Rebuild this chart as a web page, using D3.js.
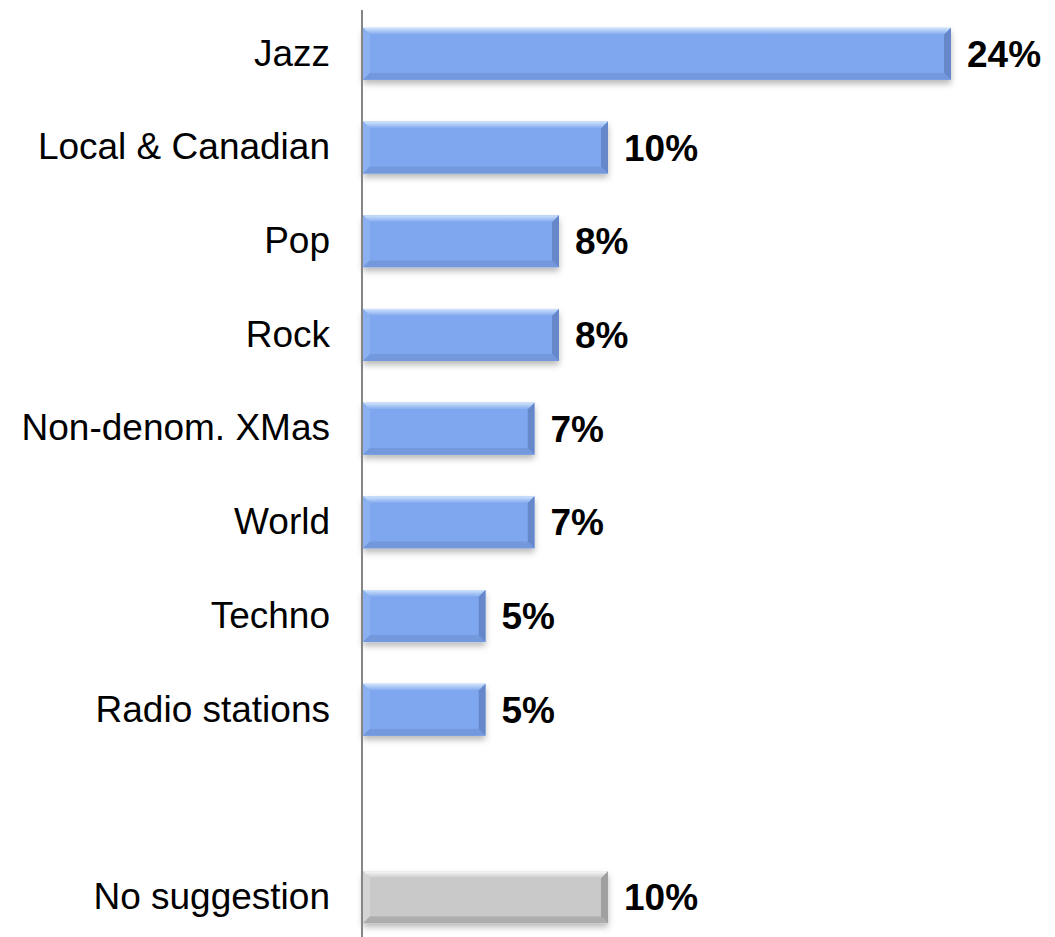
<!DOCTYPE html>
<html><head><meta charset="utf-8">
<script src="https://cdn.jsdelivr.net/npm/d3@7"></script>
<style>body{margin:0;background:#fff}svg{display:block}</style>
</head><body>
<svg id="c" width="1055" height="937"></svg>
<script>
const categories = ["Jazz","Local & Canadian","Pop","Rock","Non-denom. XMas","World","Techno","Radio stations","","No suggestion"];
const values = [24,10,8,8,7,7,5,5,null,10];
const labels = ["24%","10%","8%","8%","7%","7%","5%","5%","","10%"];
const isGray = [false,false,false,false,false,false,false,false,false,true];

const svg = d3.select("#c");
const defs = svg.append("defs");
const f = defs.append("filter").attr("id","sh").attr("x","-5%").attr("y","-20%").attr("width","110%").attr("height","160%");
f.append("feDropShadow").attr("dx",0).attr("dy",4).attr("stdDeviation",3).attr("flood-color","#000").attr("flood-opacity",0.28);

const y = d3.scaleBand().domain(d3.range(categories.length)).range([7,944]).paddingInner(0.445).paddingOuter(0.2225);
const x = d3.scaleLinear().domain([0,10]).range([363,608]);

const pal = {
  blue:{main:"#7fa7ef", top:"#cfe3fb", left:"#8cb1f1", bottom:"#7398dc", right:"#6688cb"},
  gray:{main:"#c9c9c9", top:"#fafafa", left:"#d4d4d4", bottom:"#adadad", right:"#a0a0a0"}
};
["blue","gray"].forEach(k=>{
  const lg = defs.append("linearGradient").attr("id","tg-"+k).attr("x1",0).attr("y1",0).attr("x2",0).attr("y2",1);
  lg.append("stop").attr("offset","0%").attr("stop-color",pal[k].top);
  lg.append("stop").attr("offset","100%").attr("stop-color",pal[k].main);
});
const b = 7;
const data = categories.map((c,i)=>({c,v:values[i],l:labels[i],g:isGray[i],i})).filter(d=>d.v!=null);

const g = svg.append("g");
data.forEach(d=>{
  const x0 = x(0), x1 = x(d.v), y0 = y(d.i), y1 = y0 + y.bandwidth();
  const k = d.g ? "gray" : "blue";
  const p = pal[k];
  const bar = g.append("g");
  bar.append("rect").attr("x",x0).attr("y",y0).attr("width",x1-x0).attr("height",y1-y0).attr("fill",p.main).attr("filter","url(#sh)");
  const poly = (pts,fill)=>bar.append("polygon").attr("points",pts.map(q=>q.join(",")).join(" ")).attr("fill",fill);
  poly([[x0,y0],[x1,y0],[x1-b,y0+b],[x0+b,y0+b]], "url(#tg-"+k+")");
  poly([[x0,y0],[x0+b,y0+b],[x0+b,y1-b],[x0,y1]], p.left);
  poly([[x0,y1],[x0+b,y1-b],[x1-b,y1-b],[x1,y1]], p.bottom);
  poly([[x1,y0],[x1,y1],[x1-b,y1-b],[x1-b,y0+b]], p.right);
  bar.append("rect").attr("x",x0+b).attr("y",y0+b).attr("width",x1-x0-2*b).attr("height",y1-y0-2*b).attr("fill",p.main);
  g.append("text").attr("x",x1+16).attr("y",y0+y.bandwidth()/2).attr("dy","0.35em")
    .attr("font-family","Liberation Sans, Arial, sans-serif").attr("font-weight","bold").attr("font-size",37).attr("fill","#000").text(d.l);
});

const ax = d3.axisLeft(y).tickSize(0).tickPadding(32).tickFormat(i=>categories[i]);
const axg = svg.append("g").attr("transform","translate(362,0)").call(ax);
axg.select(".domain").remove();
axg.selectAll("text").attr("font-family","Liberation Sans, Arial, sans-serif").attr("font-size",37).attr("fill","#000");
svg.append("line").attr("x1",362).attr("x2",362).attr("y1",10).attr("y2",937).attr("stroke","#868686").attr("stroke-width",2);
</script>
</body></html>
